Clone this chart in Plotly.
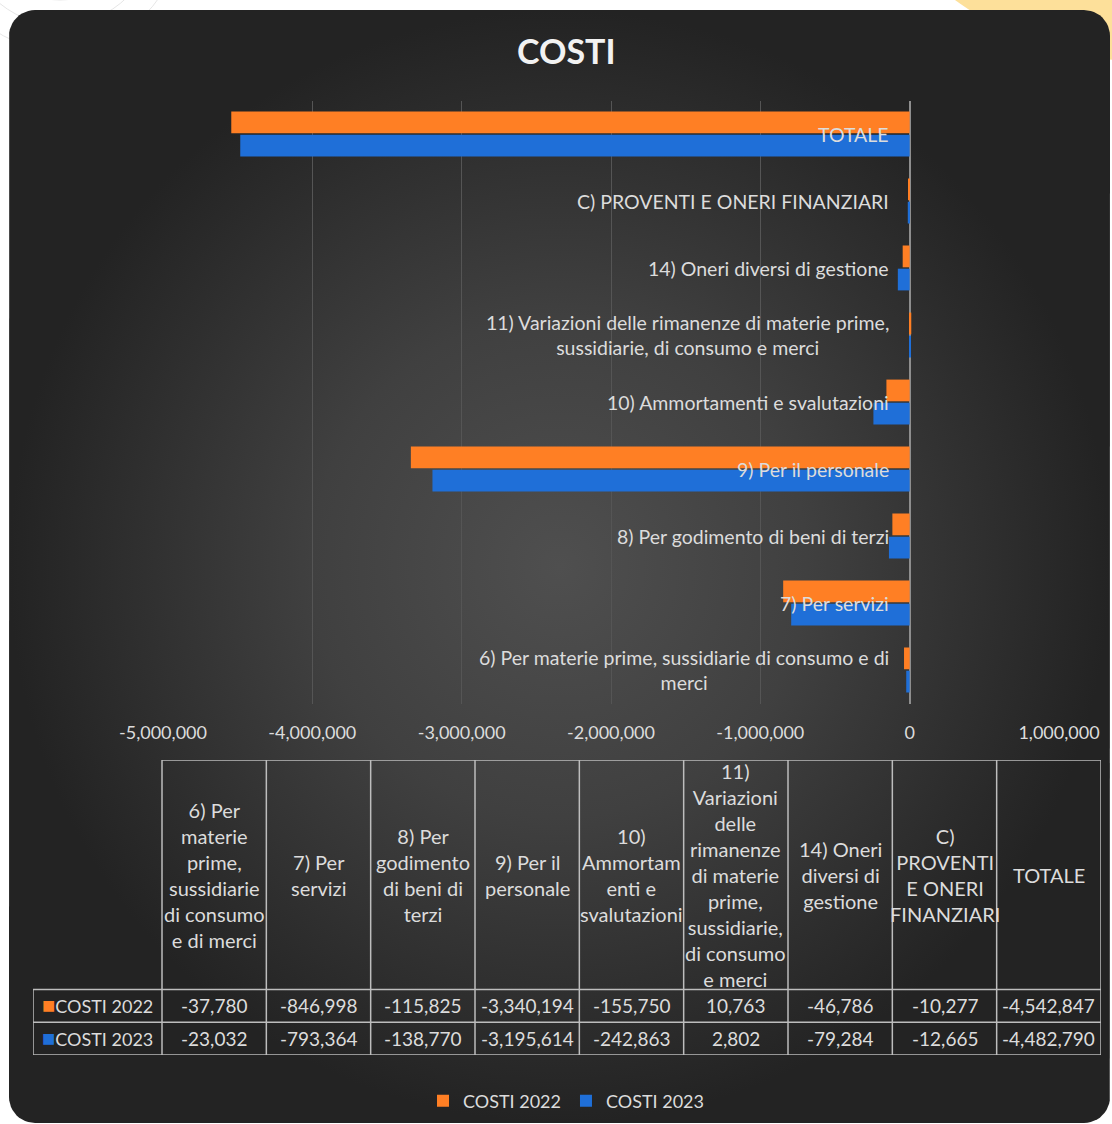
import math
import plotly.graph_objects as go

# ---------------- data ----------------
categories = [
    "6) Per materie prime, sussidiarie di consumo e di merci",
    "7) Per servizi",
    "8) Per godimento di beni di terzi",
    "9) Per il personale",
    "10) Ammortamenti e svalutazioni",
    "11) Variazioni delle rimanenze di materie prime, sussidiarie, di consumo e merci",
    "14) Oneri diversi di gestione",
    "C) PROVENTI E ONERI FINANZIARI",
    "TOTALE",
]
chart_labels = [
    "6) Per materie prime, sussidiarie di consumo e di<br>merci",
    "7) Per servizi",
    "8) Per godimento di beni di terzi",
    "9) Per il personale",
    "10) Ammortamenti e svalutazioni",
    "11) Variazioni delle rimanenze di materie prime,<br>sussidiarie, di consumo e merci",
    "14) Oneri diversi di gestione",
    "C) PROVENTI E ONERI FINANZIARI",
    "TOTALE",
]
table_headers = [
    "6) Per<br>materie<br>prime,<br>sussidiarie<br>di consumo<br>e di merci",
    "7) Per<br>servizi",
    "8) Per<br>godimento<br>di beni di<br>terzi",
    "9) Per il<br>personale",
    "10)<br>Ammortam<br>enti e<br>svalutazioni",
    "11)<br>Variazioni<br>delle<br>rimanenze<br>di materie<br>prime,<br>sussidiarie,<br>di consumo<br>e merci",
    "14) Oneri<br>diversi di<br>gestione",
    "C)<br>PROVENTI<br>E ONERI<br>FINANZIARI",
    "TOTALE",
]
series_names = ["COSTI 2022", "COSTI 2023"]
costi_2022 = [-37780, -846998, -115825, -3340194, -155750, 10763, -46786, -10277, -4542847]
costi_2023 = [-23032, -793364, -138770, -3195614, -242863, 2802, -79284, -12665, -4482790]

tick_vals = [-5000000, -4000000, -3000000, -2000000, -1000000, 0, 1000000]
tick_text = ["-5,000,000", "-4,000,000", "-3,000,000", "-2,000,000", "-1,000,000", "0", "1,000,000"]

# ---------------- style ----------------
W, H = 1112, 1124
OFF = 0  # page body margin is removed by the post script below
ORANGE = "#ff7f24"
BLUE = "#1f6fd8"
TXT = "#dcdcdc"
FONT = "Lato"
GRID = "#555555"
TABLE_LINE = "#bdbdbd"


def px_x(p):
    return (p - OFF) / W


def px_y(p):
    return 1 - (p - OFF) / H


fig = go.Figure()

# ---- background card (rounded rectangle with radial gradient) ----
x0c, y0c, x1c, y1c, r = 9, 10, 1110, 1123, 26
pts_x, pts_y = [], []
corners = [(x1c - r, y0c + r, -90, 0), (x1c - r, y1c - r, 0, 90),
           (x0c + r, y1c - r, 90, 180), (x0c + r, y0c + r, 180, 270)]
for cx, cy, a0, a1 in corners:
    for k in range(13):
        a = math.radians(a0 + (a1 - a0) * k / 12)
        pts_x.append(cx + r * math.cos(a))
        pts_y.append(cy + r * math.sin(a))
pts_x.append(pts_x[0])
pts_y.append(pts_y[0])
fig.add_trace(go.Scatter(
    x=pts_x, y=pts_y, mode="lines", fill="toself", line=dict(width=0),
    fillcolor="#333333",
    fillgradient=dict(type="radial",
                      colorscale=[[0, "#4f4f4f"], [0.45, "#404040"], [1, "#232323"]]),
    hoverinfo="skip", showlegend=False, xaxis="x", yaxis="y"))

# ---- bars (2023 first so 2022 sits on top within each group) ----
fig.add_trace(go.Bar(y=categories, x=costi_2023, name=series_names[1], orientation="h",
                     marker=dict(color=BLUE, line=dict(width=0)),
                     xaxis="x2", yaxis="y2", hoverinfo="x+y"))
fig.add_trace(go.Bar(y=categories, x=costi_2022, name=series_names[0], orientation="h",
                     marker=dict(color=ORANGE, line=dict(width=0)),
                     xaxis="x2", yaxis="y2", hoverinfo="x+y"))

annotations = []
# title
annotations.append(dict(text="<b>COSTI</b>", x=px_x(566), y=px_y(50), xref="paper", yref="paper",
                        showarrow=False, xanchor="center", yanchor="middle",
                        font=dict(family=FONT, size=34, color="#f2f2f2")))
# category labels next to the zero line
for cat, lab in zip(categories, chart_labels):
    annotations.append(dict(text=lab, x=0, y=cat, xref="x2", yref="y2", showarrow=False,
                            xanchor="right", yanchor="middle", xshift=-19, align="center",
                            font=dict(family=FONT, size=19.5, color=TXT)))

# ---- data table (x3 / y3) ----
label_w = 129 / 104.33
tx0 = -0.5 - label_w
ncol = len(categories)
shapes = []
line = dict(color=TABLE_LINE, width=1.5)
for yv, xs in [(9, -0.5), (2, tx0), (1, tx0), (0, tx0)]:
    shapes.append(dict(type="line", xref="x3", yref="y3", x0=xs, x1=ncol - 0.5, y0=yv, y1=yv,
                       line=line, layer="above"))
shapes.append(dict(type="line", xref="x3", yref="y3", x0=tx0, x1=tx0, y0=0, y1=2,
                   line=line, layer="above"))
for k in range(ncol + 1):
    shapes.append(dict(type="line", xref="x3", yref="y3", x0=k - 0.5, x1=k - 0.5, y0=0, y1=9,
                       line=line, layer="above"))

for i, h in enumerate(table_headers):
    annotations.append(dict(text=h, x=i, y=5.5, xref="x3", yref="y3", showarrow=False,
                            xanchor="center", yanchor="middle", align="center",
                            font=dict(family=FONT, size=20, color=TXT)))
for row_y, vals in [(1.5, costi_2022), (0.5, costi_2023)]:
    for i, v in enumerate(vals):
        annotations.append(dict(text=f"{v:,}", x=i, y=row_y, xref="x3", yref="y3",
                                showarrow=False, xanchor="center", yanchor="middle",
                                font=dict(family=FONT, size=19, color=TXT)))
for row_y, name, col in [(1.5, series_names[0], ORANGE), (0.5, series_names[1], BLUE)]:
    annotations.append(dict(
        text=f"<span style='color:{col};font-size:22px'>■</span>{name}",
        x=(tx0 - 0.5) / 2, y=row_y, xref="x3", yref="y3", showarrow=False,
        xanchor="center", yanchor="middle", yshift=1,
        font=dict(family=FONT, size=18, color=TXT)))

# decorative page elements behind the card
shapes.append(dict(type="circle", xref="x", yref="y", x0=1140 - 311, y0=-250 - 311,
                   x1=1140 + 311, y1=-250 + 311,
                   fillcolor="#fde09a", line=dict(width=0), layer="below"))
for rr in (70, 95, 120):
    shapes.append(dict(type="circle", xref="x", yref="y", x0=60 - rr, y0=-70 - rr,
                       x1=60 + rr, y1=-70 + rr, line=dict(color="#e6e6e6", width=1),
                       layer="below"))

fig.update_layout(
    template="none",
    width=W, height=H,
    autosize=False,
    margin=dict(l=0, r=0, t=0, b=0, pad=0),
    paper_bgcolor="#ffffff",
    plot_bgcolor="rgba(0,0,0,0)",
    barmode="group", bargap=0.31, bargroupgap=0.06,
    font=dict(family=FONT, color=TXT),
    showlegend=True,
    legend=dict(orientation="h", x=px_x(566), xanchor="center", y=px_y(1101), yanchor="middle",
                traceorder="reversed", bgcolor="rgba(0,0,0,0)",
                font=dict(family=FONT, size=18, color=TXT), itemwidth=30),
    xaxis=dict(domain=[0, 1], range=[OFF, W + OFF], visible=False, fixedrange=True,
               automargin=False),
    yaxis=dict(domain=[0, 1], range=[H + OFF, OFF], visible=False, fixedrange=True,
               automargin=False),
    xaxis2=dict(domain=[px_x(163), px_x(1059)], range=[-5000000, 1000000], anchor="y2",
                tickvals=tick_vals, ticktext=tick_text, showgrid=True, gridcolor=GRID,
                gridwidth=1, zeroline=True, zerolinecolor="#8e8e8e", zerolinewidth=2,
                showline=False, ticks="", ticklabelstandoff=16, automargin=False,
                tickfont=dict(family=FONT, size=18, color=TXT)),
    yaxis2=dict(domain=[px_y(703.5), px_y(100.5)], anchor="x2", type="category",
                categoryorder="array", categoryarray=categories, showticklabels=False,
                showgrid=False, zeroline=False, showline=False, ticks="", automargin=False),
    xaxis3=dict(domain=[px_x(33), px_x(1101)], range=[tx0, ncol - 0.5], anchor="y3",
                visible=False, automargin=False),
    yaxis3=dict(domain=[px_y(1055), px_y(760)], range=[0, 9], anchor="x3", visible=False,
                automargin=False),
    annotations=annotations,
    shapes=shapes,
)

fig.write_html("out.html",
               config={"displayModeBar": False},
               post_script="document.body.style.margin='0';document.body.style.overflow='hidden';")
